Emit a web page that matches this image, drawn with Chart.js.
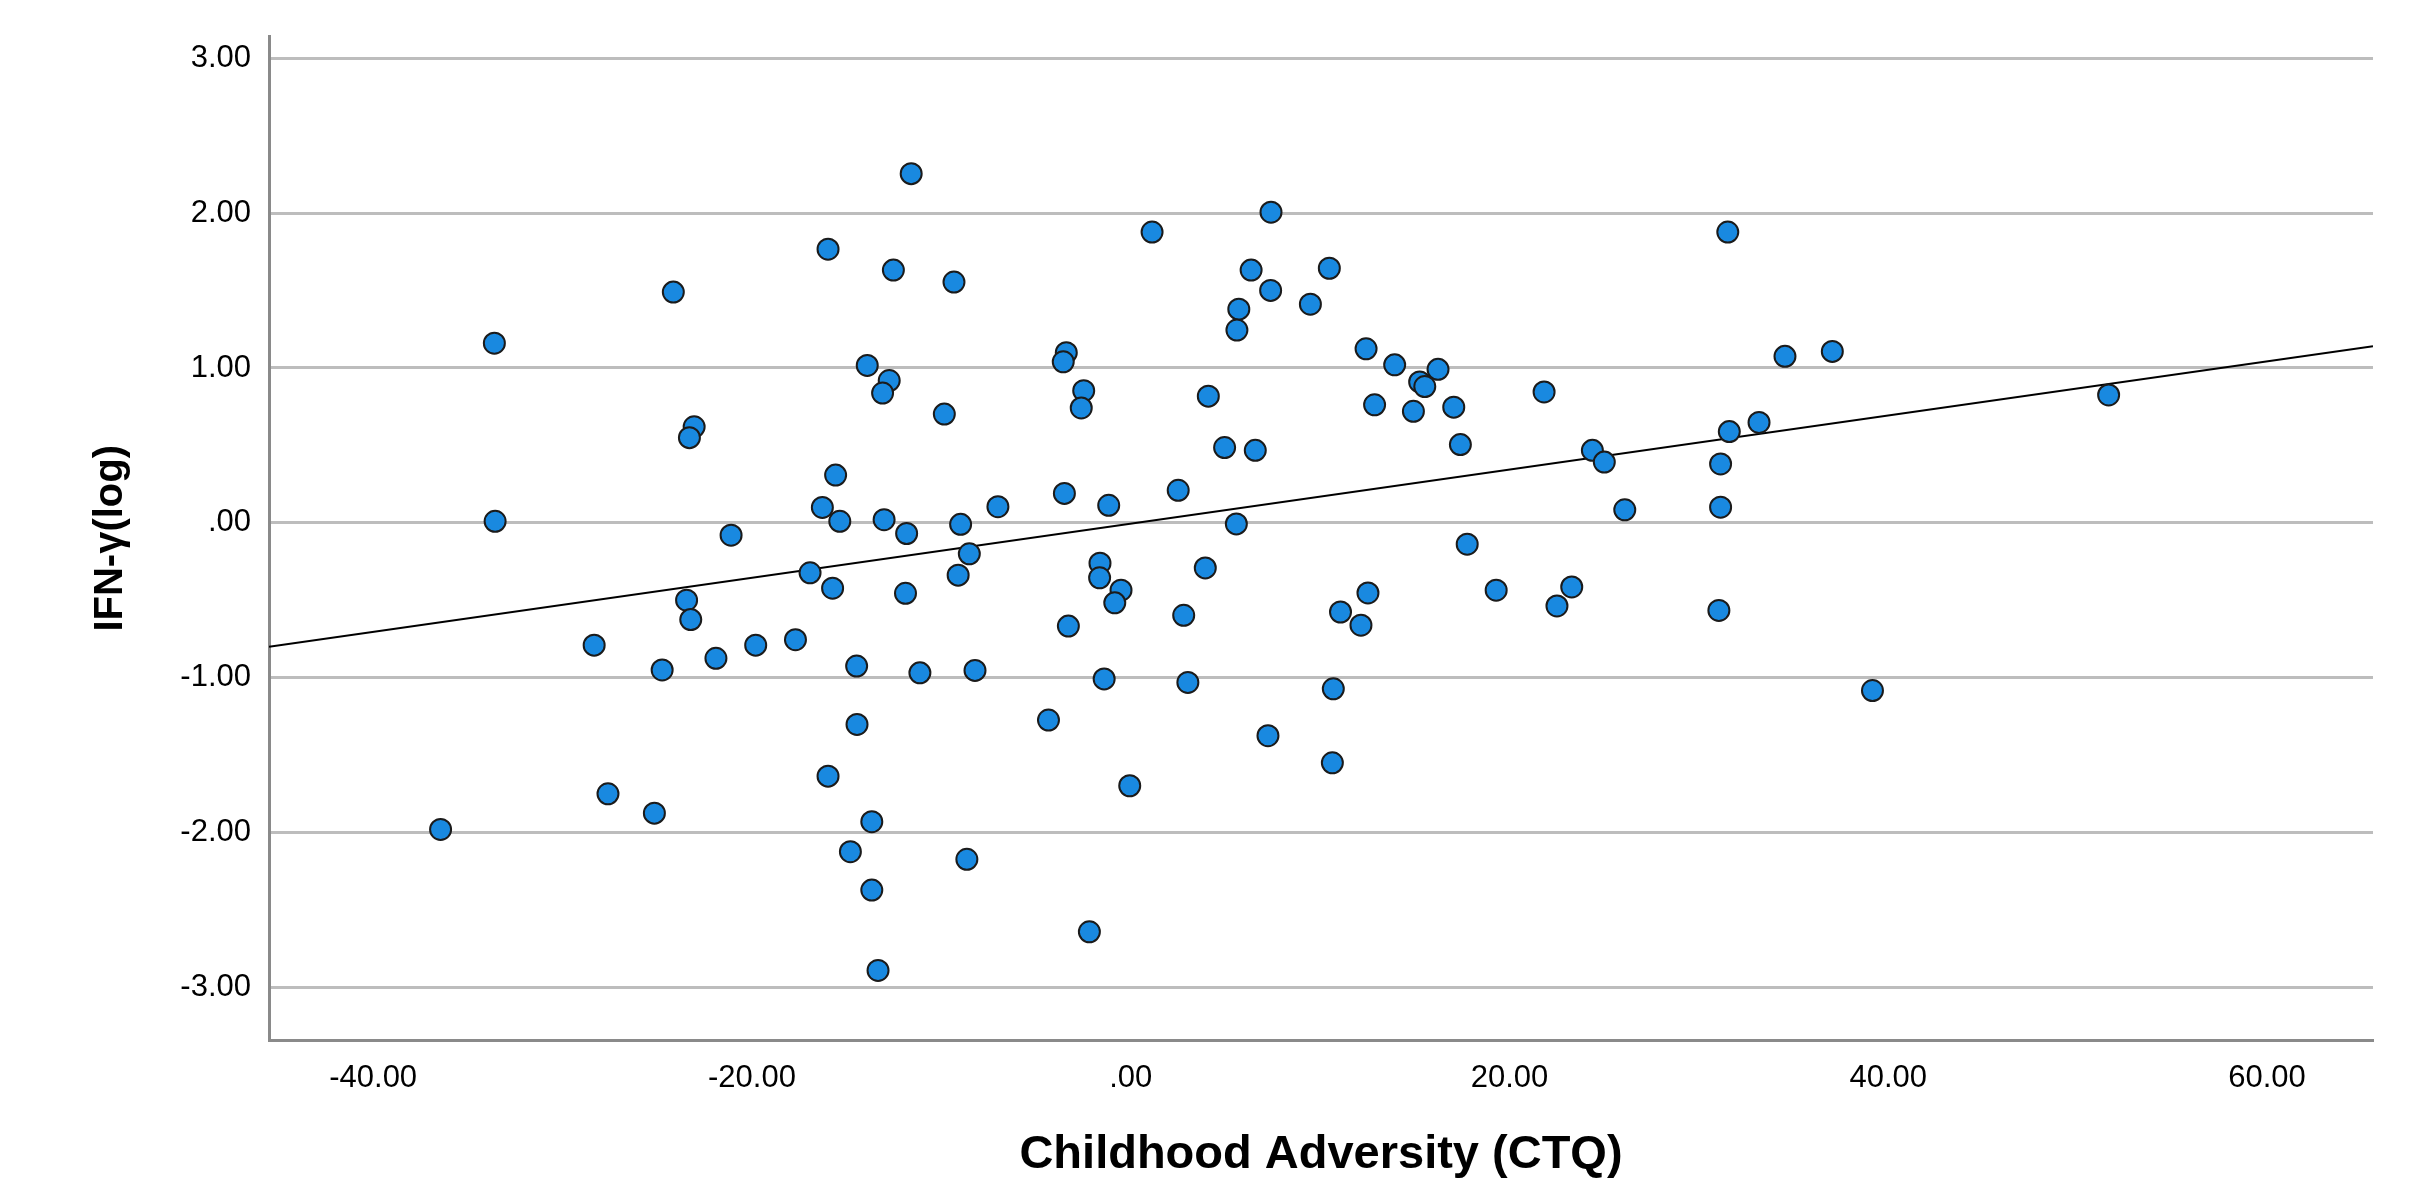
<!DOCTYPE html>
<html>
<head>
<meta charset="utf-8">
<title>IFN-γ vs Childhood Adversity</title>
<script src="https://cdn.jsdelivr.net/npm/chart.js@4.4.1/dist/chart.umd.min.js"></script>
<style>
    body { margin: 0; background: #ffffff; }
    canvas { display: block; }
</style>
</head>
<body>
<canvas id="chartScatter" width="2423" height="1181"></canvas>
<script>
// values
const ctqScores = [
    -33.6, -24.15, -23.05, -23.3, -33.56, -21.1, -23.45, -23.23, -28.33, -24.74,
    -21.9, -19.8, -17.7, -27.6, -25.15, -36.44, -11.59, -15.98, -12.53, -9.33,
    1.13, 7.41, 6.36, 7.39, 10.49, 9.49, 5.71, 5.61, -13.91, -12.75,
    -13.1, -9.84, -3.4, -3.56, -2.48, -2.61, 4.1, 12.43, 13.94, 16.23,
    15.26, 15.53, 12.88, 14.93, 17.06, 17.41, 21.83, 4.96, 6.58, -15.58,
    -16.28, -15.36, -13.02, -11.83, -8.98, -7.01, -3.5, -1.16, 2.51, 5.58,
    17.77, -8.52, -16.93, -9.11, -1.62, -1.64, -0.51, 3.94, -15.74, -11.89,
    12.53, 19.3, 23.29, -0.84, -3.29, 2.8, 11.08, 12.16, 22.51, -14.47,
    -11.13, -8.22, -1.4, 3.02, 10.7, -14.45, -4.34, 7.25, 10.65, -15.98,
    -0.05, -13.67, -14.8, -8.65, -13.67, -2.18, -13.34, 31.53, 34.55, 37.05,
    51.64, 33.18, 31.61, 24.38, 25.01, 31.15, 26.09, 31.15, 31.06, 39.17
];
const ifnLog = [
    1.16, 1.49, 0.62, 0.55, 0.01, -0.08, -0.5, -0.625, -0.79, -0.95,
    -0.875, -0.79, -0.755, -1.75, -1.875, -1.98, 2.255, 1.767, 1.632, 1.555,
    1.878, 2.006, 1.632, 1.501, 1.644, 1.412, 1.38, 1.245, 1.016, 0.919,
    0.838, 0.702, 1.099, 1.04, 0.853, 0.742, 0.818, 1.124, 1.02, 0.991,
    0.91, 0.88, 0.762, 0.72, 0.747, 0.505, 0.845, 0.486, 0.468, 0.308,
    0.099, 0.01, 0.02, -0.069, -0.01, 0.104, 0.19, 0.113, 0.21, -0.007,
    -0.138, -0.2, -0.323, -0.338, -0.261, -0.355, -0.435, -0.291, -0.422, -0.455,
    -0.453, -0.435, -0.414, -0.517, -0.667, -0.597, -0.576, -0.661, -0.537, -0.925,
    -0.969, -0.953, -1.008, -1.031, -1.072, -1.302, -1.274, -1.375, -1.55, -1.636,
    -1.698, -1.93, -2.124, -2.173, -2.372, -2.641, -2.891, 1.878, 1.075, 1.107,
    0.826, 0.648, 0.589, 0.468, 0.392, 0.38, 0.084, 0.101, -0.566, -1.083
];

// fit line, read at the left and right edge of the plot
const fitX = [-45.5, 65.6];
const fitY = [-0.80, 1.14];

const xTicks = [-40, -20, 0, 20, 40, 60];
const yTicks = [-3, -2, -1, 0, 1, 2, 3];
const xRange = [-45.5, 65.6];
const yRange = [-3.34, 3.14];

// SPSS style labels: ".00" for zero
function spssLabel(v) {
    if (v == 0) return '.00';
    return v.toFixed(2);
}

const points = ctqScores.map(function (x, i) { return { x: x, y: ifnLog[i] }; });
const fitPoints = fitX.map(function (x, i) { return { x: x, y: fitY[i] }; });

const fontName = '"Liberation Sans", Arial, sans-serif';

const scatter = new Chart(
    document.getElementById('chartScatter'), {
        type: 'scatter',
        data: {
            datasets: [{
                data: points,
                backgroundColor: '#1989e0',
                borderColor: '#1b1b1b',
                borderWidth: 2,
                pointRadius: 10.5,
                order: 1
            }, {
                type: 'line',
                data: fitPoints,
                borderColor: '#000000',
                borderWidth: 2,
                pointRadius: 0,
                fill: false,
                order: 2
            }]
        },
        options: {
            responsive: false,
            animation: false,
            devicePixelRatio: 1,
            layout: {
                padding: { left: 0, right: 50, top: 34, bottom: 0 }
            },
            plugins: {
                legend: { display: false },
                tooltip: { enabled: false }
            },
            scales: {
                x: {
                    type: 'linear',
                    min: xRange[0],
                    max: xRange[1],
                    afterBuildTicks: function (scale) {
                        scale.ticks = xTicks.map(function (v) { return { value: v }; });
                    },
                    afterFit: function (scale) { scale.height = 141; },
                    grid: { display: false, drawTicks: false },
                    border: { display: true, color: '#8a8a8a', width: 3 },
                    ticks: {
                        callback: spssLabel,
                        color: '#000000',
                        padding: 20,
                        autoSkip: false,
                        maxRotation: 0,
                        font: { family: fontName, size: 31 }
                    },
                    title: {
                        display: true,
                        text: 'Childhood Adversity (CTQ)',
                        color: '#000000',
                        font: { family: fontName, size: 47, weight: 'bold', lineHeight: 1 },
                        padding: { top: 0, bottom: 2 }
                    }
                },
                y: {
                    type: 'linear',
                    min: yRange[0],
                    max: yRange[1],
                    afterBuildTicks: function (scale) {
                        scale.ticks = yTicks.map(function (v) { return { value: v }; });
                    },
                    afterFit: function (scale) { scale.width = 269; },
                    grid: { color: '#bdbdbd', lineWidth: 3, drawTicks: false },
                    border: { display: true, color: '#8a8a8a', width: 3 },
                    ticks: {
                        callback: spssLabel,
                        color: '#000000',
                        padding: 18,
                        font: { family: fontName, size: 31 }
                    },
                    title: {
                        display: true,
                        text: 'IFN-γ(log)',
                        color: '#000000',
                        font: { family: fontName, size: 40, weight: 'bold', lineHeight: 1.2 },
                        padding: { top: 87, bottom: 0 }
                    }
                }
            }
        }
    }
);
</script>
</body>
</html>
